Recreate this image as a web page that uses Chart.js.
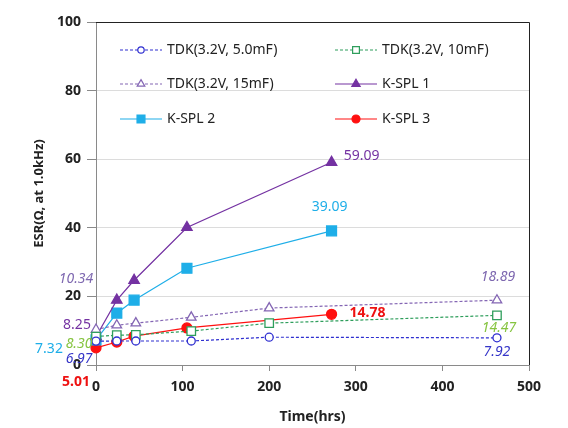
<!DOCTYPE html>
<html lang="en">
<head>
  <meta charset="UTF-8">
  <title>ESR vs Time</title>
  <script src="https://cdn.jsdelivr.net/npm/chart.js"></script>
  <style>
    body { margin: 0; padding: 0; background: #ffffff; }
    .wrap { width: 568px; height: 428px; position: relative; }
  </style>
</head>
<body>
  <div class="wrap"><canvas id="esrChart" width="568" height="428"></canvas></div>

  <script>
    // time axis (hrs)
    const tdkTimes = [0, 24, 46, 110, 200, 463];
    const ksplTimes = [0, 24, 44, 105, 272];

    // ESR (ohm, at 1.0 kHz)
    const tdk5mF = [6.97, 7.0, 7.0, 7.0, 8.1, 7.92];
    const tdk10mF = [8.30, 8.7, 8.8, 9.9, 12.2, 14.47];
    const tdk15mF = [10.34, 11.6, 12.2, 13.9, 16.6, 18.89];
    const kspl1 = [8.25, 18.9, 24.7, 40.1, 59.09];
    const kspl2 = [7.32, 15.1, 18.9, 28.2, 39.09];
    const kspl3 = [5.01, 6.7, 8.4, 10.8, 14.78];

    const seriesNames = ['TDK(3.2V, 5.0mF)', 'TDK(3.2V, 10mF)', 'TDK(3.2V, 15mF)', 'K-SPL 1', 'K-SPL 2', 'K-SPL 3'];
    const yTicks = [0, 20, 40, 60, 80, 100];
    const xTicks = [0, 100, 200, 300, 400, 500];

    const pts = (xs, ys) => xs.map((x, i) => ({ x: x, y: ys[i] }));

    function series(name, xs, ys, o) {
      return {
        label: name,
        data: pts(xs, ys),
        borderColor: o.color,
        borderWidth: 1.2,
        borderDash: o.dash ? [3, 2] : [],
        pointStyle: o.marker,
        pointRadius: o.radius,
        pointBorderWidth: 1.3,
        pointBorderColor: o.color,
        pointBackgroundColor: o.open ? '#ffffff' : o.color,
        tension: 0,
        clip: false,
        // label look: [startDx, startDy, endDx, endDy]
        lbl: o.lbl
      };
    }

    const datasets = [
      series(seriesNames[0], tdkTimes, tdk5mF, { color: '#2f2fd0', dash: true, marker: 'circle', radius: 4, open: true,
        lbl: { color: '#3535c8', font: 'italic 14px "Noto Sans"', off: [-17, 18, 0, 14] } }),
      series(seriesNames[1], tdkTimes, tdk10mF, { color: '#2f9e5c', dash: true, marker: 'rect', radius: 6, open: true,
        lbl: { color: '#86c440', font: 'italic 14px "Noto Sans"', off: [-17, 7, 2, 13] } }),
      series(seriesNames[2], tdkTimes, tdk15mF, { color: '#8466b4', dash: true, marker: 'triangle', radius: 5.5, open: true,
        lbl: { color: '#7e68b0', font: 'italic 14px "Noto Sans"', off: [-20, -51, 1, -23] } }),
      series(seriesNames[3], ksplTimes, kspl1, { color: '#7432a2', dash: false, marker: 'triangle', radius: 6, open: false,
        lbl: { color: '#7432a2', font: '14px "Noto Sans"', off: [-19, -12, 30, -6] } }),
      series(seriesNames[4], ksplTimes, kspl2, { color: '#1eaee8', dash: false, marker: 'rect', radius: 7, open: false,
        lbl: { color: '#1eaee8', font: '14px "Noto Sans"', off: [-47, 9, -2, -24] } }),
      series(seriesNames[5], ksplTimes, kspl3, { color: '#ff1010', dash: false, marker: 'circle', radius: 5, open: false,
        lbl: { color: '#ee1111', font: 'bold 14px "Noto Sans"', off: [-20, 34, 36, -1] } })
    ];

    // first / last value labels
    const valueLabels = {
      id: 'valueLabels',
      afterDatasetsDraw(chart) {
        const ctx = chart.ctx;
        ctx.save();
        ctx.textAlign = 'center';
        ctx.textBaseline = 'middle';
        chart.data.datasets.forEach((ds, i) => {
          const meta = chart.getDatasetMeta(i);
          const first = meta.data[0];
          const last = meta.data[meta.data.length - 1];
          const o = ds.lbl;
          ctx.fillStyle = o.color;
          ctx.font = o.font;
          ctx.fillText(ds.data[0].y.toFixed(2), first.x + o.off[0], first.y + o.off[1]);
          ctx.fillText(ds.data[ds.data.length - 1].y.toFixed(2), last.x + o.off[2], last.y + o.off[3]);
        });
        ctx.restore();
      }
    };

    // frame + legend inside plot area
    const frameLegend = {
      id: 'frameLegend',
      afterDraw(chart) {
        const ctx = chart.ctx;
        const a = chart.chartArea;
        ctx.save();
        ctx.strokeStyle = '#222';
        ctx.lineWidth = 1;
        ctx.beginPath();
        ctx.moveTo(a.left, a.top + 0.5);
        ctx.lineTo(a.right + 0.5, a.top + 0.5);
        ctx.lineTo(a.right + 0.5, a.bottom);
        ctx.stroke();

        const cols = [a.left + 24, a.left + 239];
        const rows = [a.top + 28, a.top + 62, a.top + 97];
        chart.data.datasets.forEach((ds, i) => {
          const x = cols[i % 2];
          const y = rows[Math.floor(i / 2)];
          ctx.strokeStyle = ds.borderColor;
          ctx.lineWidth = 1.2;
          ctx.setLineDash(ds.borderDash);
          ctx.beginPath();
          ctx.moveTo(x, y);
          ctx.lineTo(x + 42, y);
          ctx.stroke();
          ctx.setLineDash([]);
          ctx.fillStyle = ds.pointBackgroundColor;
          ctx.strokeStyle = ds.pointBorderColor;
          ctx.lineWidth = 1.2;
          Chart.helpers.drawPoint(ctx, { pointStyle: ds.pointStyle, radius: ds.pointRadius * 0.8, borderWidth: 1.2 }, x + 21, y);
          ctx.fillStyle = '#222';
          ctx.font = '14px "Noto Sans"';
          ctx.textAlign = 'left';
          ctx.textBaseline = 'middle';
          ctx.fillText(ds.label, x + 47, y);
        });
        ctx.restore();
      }
    };

    new Chart(document.getElementById('esrChart'), {
      type: 'line',
      data: { datasets: datasets },
      options: {
        responsive: false,
        animation: false,
        layout: { padding: { top: 22, right: 39, left: 0, bottom: 0 } },
        plugins: {
          legend: { display: false },
          tooltip: { enabled: false }
        },
        scales: {
          x: {
            type: 'linear',
            min: 0,
            max: 500,
            afterBuildTicks: s => { s.ticks = xTicks.map(v => ({ value: v })); },
            afterFit: s => { s.height = 63; },
            border: { color: '#8a8a8a', width: 1 },
            grid: { drawOnChartArea: false, drawTicks: true, tickLength: 6, tickColor: '#8a8a8a' },
            ticks: { color: '#222', padding: 8, font: { family: 'Noto Sans', size: 14, weight: 'bold' } },
            title: {
              display: true,
              text: 'Time(hrs)',
              color: '#222',
              padding: { top: 2, bottom: 3 },
              font: { family: 'Noto Sans', size: 14, weight: 'bold' }
            }
          },
          y: {
            min: 0,
            max: 100,
            afterBuildTicks: s => { s.ticks = yTicks.map(v => ({ value: v })); },
            afterFit: s => { s.width = 96; },
            border: { color: '#8a8a8a', width: 1 },
            grid: { color: '#dcdcdc', tickLength: 9, tickColor: '#8a8a8a' },
            ticks: { color: '#222', padding: 6, font: { family: 'Noto Sans', size: 14, weight: 'bold' } },
            title: {
              display: true,
              text: 'ESR(Ω, at 1.0kHz)',
              color: '#222',
              padding: { top: 31, bottom: 0 },
              font: { family: 'Noto Sans', size: 13, weight: 'bold' }
            }
          }
        }
      },
      plugins: [valueLabels, frameLegend]
    });
  </script>
</body>
</html>
